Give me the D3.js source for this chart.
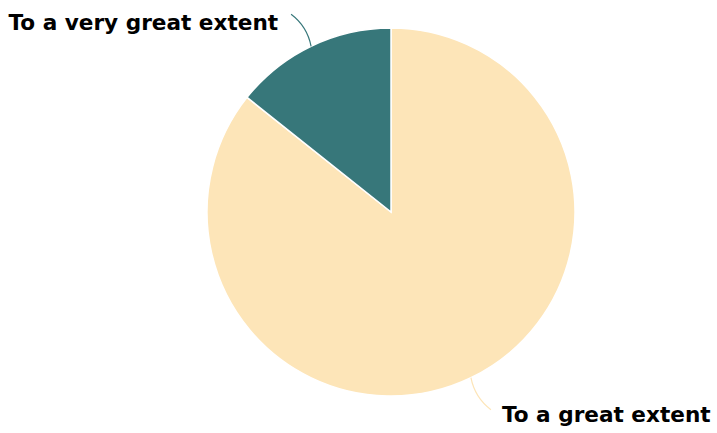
<!DOCTYPE html>
<html><head><meta charset="utf-8">
<script src="https://cdn.jsdelivr.net/npm/d3@7"></script>
<style>html,body{margin:0;padding:0;background:#fff}</style>
</head><body>
<svg id="chart" width="717" height="433"></svg>
<script>
const categories = ["To a great extent", "To a very great extent"];
const values = [85.7, 14.3];
const colors = ["#fde5b8", "#37777a"];

const svg = d3.select("#chart");
const cx = 391, cy = 212, R = 184;
const g = svg.append("g").attr("transform", `translate(${cx},${cy})`);
const data = categories.map((c, i) => ({cat: c, value: values[i], color: colors[i]}));
const pie = d3.pie().value(d => d.value).sort(null).startAngle(0).endAngle(2 * Math.PI);
const arcs = pie(data);
const arc = d3.arc().innerRadius(0).outerRadius(R);
g.selectAll("path.slice").data(arcs).enter().append("path")
  .attr("class", "slice")
  .attr("d", arc)
  .attr("fill", d => d.data.color)
  .attr("stroke", "#fff").attr("stroke-width", 1.5);

// leader lines and labels
arcs.forEach(a => {
  const mid = (a.startAngle + a.endAngle) / 2;
  const sx = Math.sin(mid) * R, sy = -Math.cos(mid) * R;
  const right = Math.sin(mid) > 0;
  const below = sy > 0;
  const ex = sx + (right ? 20 : -20), ey = sy + (below ? 32 : -32);
  const qx = sx + (right ? 4 : -4) , qy = sy + (below ? 20 : -20);
  const p = d3.path();
  p.moveTo(sx, sy);
  p.quadraticCurveTo(qx, qy, ex, ey);
  g.append("path").attr("d", p.toString()).attr("fill", "none")
    .attr("stroke", a.data.color).attr("stroke-width", 1.2);
  g.append("text")
    .attr("x", ex + (right ? 11 : -13))
    .attr("y", ey + (below ? 5 : 8))
    .attr("dy", "0.35em")
    .attr("text-anchor", right ? "start" : "end")
    .attr("font-family", "DejaVu Sans")
    .attr("font-weight", "bold")
    .attr("font-size", 21.6)
    .attr("fill", "#000")
    .text(a.data.cat);
});
</script>
</body></html>
